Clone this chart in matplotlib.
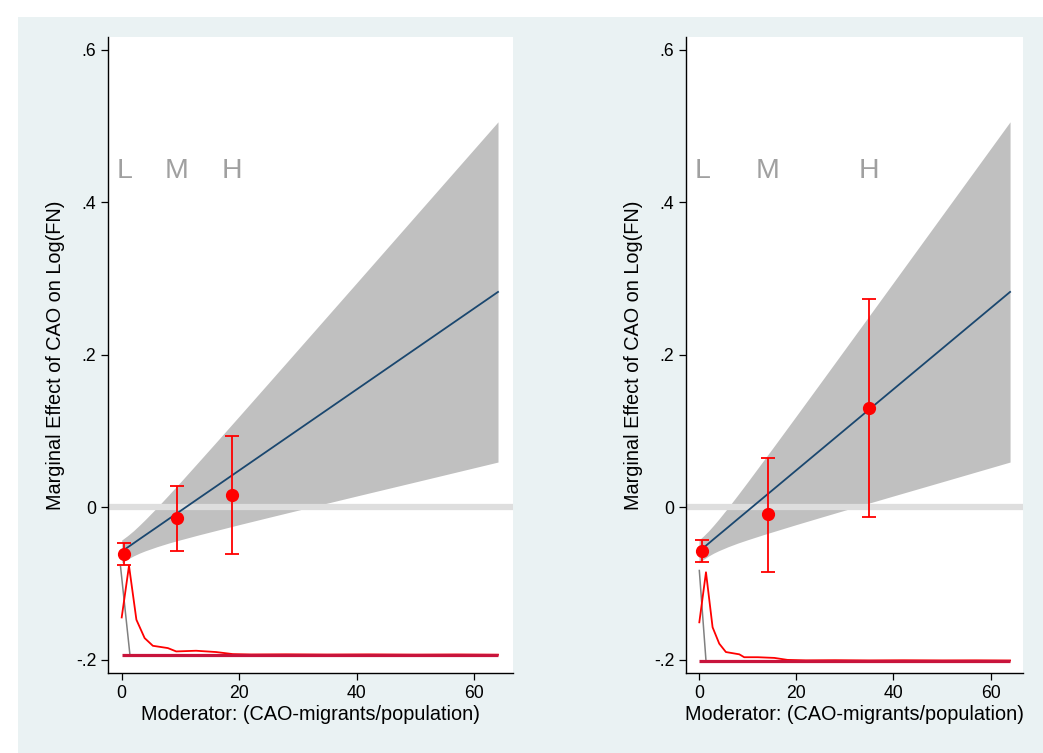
import matplotlib
matplotlib.use('Agg')
import matplotlib.pyplot as plt
from matplotlib.patches import Rectangle
import numpy as np

plt.rcParams['font.family'] = ['Liberation Sans', 'DejaVu Sans']

# marginal effect line and 95% band (same model in both panels)
band_x = [0, 1, 2, 3, 4, 6, 8, 10, 13, 16, 20, 25, 30, 40, 50, 64]
band_mid = [-0.058, -0.0527, -0.0474, -0.042, -0.0367, -0.0261, -0.0154, -0.0048,
            0.0112, 0.0271, 0.0484, 0.075, 0.1016, 0.1548, 0.208, 0.2825]
band_hi = [-0.043, -0.0373, -0.0309, -0.0237, -0.0162, -0.0004, 0.0162, 0.0331,
           0.0589, 0.0848, 0.1196, 0.1633, 0.2071, 0.2948, 0.3827, 0.5057]
band_lo = [-0.073, -0.0681, -0.0639, -0.0603, -0.0572, -0.0518, -0.047, -0.0427,
           -0.0365, -0.0306, -0.0228, -0.0133, -0.0039, 0.0148, 0.0333, 0.0593]

bin_labels = ['L', 'M', 'H']

# left panel: binned estimates
left_bin_x = [0.45, 9.37, 18.8]
left_bin_est = [-0.061, -0.0142, 0.0155]
left_bin_lo = [-0.076, -0.0575, -0.0614]
left_bin_hi = [-0.047, 0.0282, 0.093]

# right panel: binned estimates
right_bin_x = [0.7, 14.2, 34.9]
right_bin_est = [-0.057, -0.0092, 0.130]
right_bin_lo = [-0.0713, -0.0844, -0.013]
right_bin_hi = [-0.0424, 0.065, 0.273]

# density of moderator along the bottom
left_dens_x = [0, 1.24, 2.5, 3.9, 5.3, 7.85, 9.27, 12.65, 16.05, 18.9, 22, 28, 35, 42, 50, 57, 64]
left_dens_y = [-0.1446, -0.0768, -0.1476, -0.1717, -0.1818, -0.1848, -0.1892, -0.1883,
               -0.190, -0.1927, -0.1932, -0.1930, -0.1933, -0.1931, -0.1934, -0.1932, -0.1935]
left_base = -0.1936
left_gray_x = [-0.2, 1.4]
left_gray_y = [-0.0777, -0.1936]

right_dens_x = [0.07, 1.44, 2.8, 4.17, 5.54, 8.3, 9.3, 12.1, 15.5, 18.2, 22, 28, 35, 42, 50, 57, 64]
right_dens_y = [-0.151, -0.0853, -0.1575, -0.179, -0.190, -0.193, -0.1968, -0.1968,
                -0.1977, -0.2003, -0.2009, -0.2007, -0.2010, -0.2008, -0.2010, -0.2009, -0.2011]
right_base = -0.2012
right_gray_x = [0.07, 1.44]
right_gray_y = [-0.083, -0.2012]

yticks = [-0.2, 0, 0.2, 0.4, 0.6]
ytick_labels = ['-.2', '0', '.2', '.4', '.6']
xticks = [0, 20, 40, 60]

fig = plt.figure(figsize=(10.43, 7.53), dpi=100)
fig.patch.set_facecolor('white')
bg = Rectangle((18 / 1043, 0), 1, (753 - 17) / 753, transform=fig.transFigure,
               facecolor='#EAF2F3', edgecolor='none', zorder=-5)
fig.add_artist(bg)

ax1 = fig.add_axes([108 / 1043, 80 / 753, 405 / 1043, 636 / 753])
ax2 = fig.add_axes([686 / 1043, 80 / 753, 337 / 1043, 636 / 753])

panels = [
    (ax1, left_bin_x, left_bin_est, left_bin_lo, left_bin_hi, left_dens_x, left_dens_y,
     left_base, left_gray_x, left_gray_y, (-2.33, 66.55)),
    (ax2, right_bin_x, right_bin_est, right_bin_lo, right_bin_hi, right_dens_x, right_dens_y,
     right_base, right_gray_x, right_gray_y, (-2.67, 66.66)),
]

for ax, bx, best, blo, bhi, dx, dy, base, gx, gy, xl in panels:
    ax.set_facecolor('white')
    ax.fill_between(band_x, band_lo, band_hi, color='#C0C0C0', lw=0, zorder=1)
    ax.axhline(0, color='#DEDEDE', lw=4.5, zorder=2)
    ax.plot(band_x, band_mid, color='#1A476F', lw=1.3, zorder=3)

    # density at the bottom
    ax.plot(gx, gy, color='#808080', lw=1.1, zorder=3)
    ax.plot(dx, dy, color='#FF0000', lw=1.3, zorder=3)
    ax.plot([0, 64], [base, base], color='#C8143C', lw=2.3, zorder=3, solid_capstyle='butt')

    # binned estimates
    yerr = [np.array(best) - np.array(blo), np.array(bhi) - np.array(best)]
    ax.errorbar(bx, best, yerr=yerr, fmt='o', color='#FF0000', ms=8.5, elinewidth=1.3,
                capsize=5, capthick=1.3, zorder=4)
    for lab, x in zip(bin_labels, bx):
        ax.text(x, 0.441, lab, color='#A0A0A0', fontsize=20.5, ha='center', va='center')

    ax.set_xlim(*xl)
    ax.set_ylim(-0.2175, 0.617)
    ax.set_yticks(yticks)
    ax.set_yticklabels(ytick_labels)
    ax.set_xticks(xticks)
    ax.tick_params(direction='out', length=5, width=0.9, labelsize=12.7, colors='black')
    for s in ['top', 'right']:
        ax.spines[s].set_visible(False)
    for s in ['left', 'bottom']:
        ax.spines[s].set_linewidth(1.0)
    ax.set_xlabel('Moderator: (CAO-migrants/population)', fontsize=14.3, labelpad=2)
    ax.set_ylabel('Marginal Effect of CAO on Log(FN)', fontsize=14.3, labelpad=8)

fig.savefig('out.png', dpi=100, facecolor='white')
